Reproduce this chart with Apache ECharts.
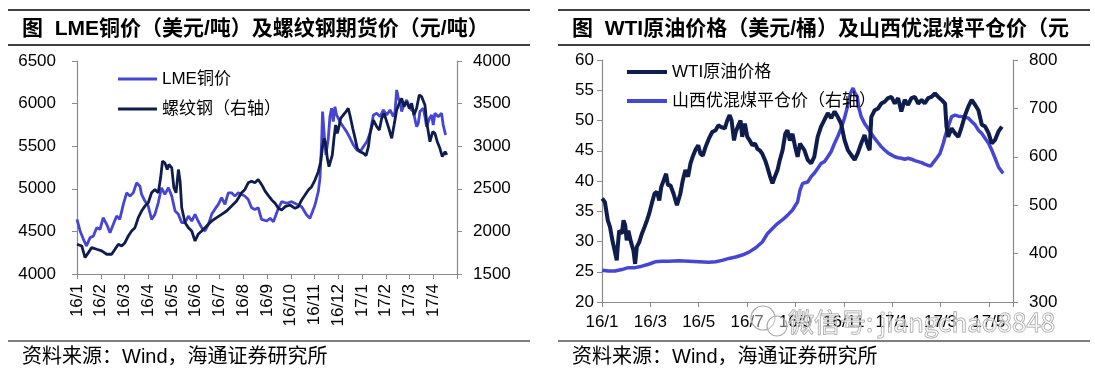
<!DOCTYPE html>
<html><head><meta charset="utf-8">
<script src="https://cdn.jsdelivr.net/npm/echarts@6/dist/echarts.min.js"></script>
<style>html,body{margin:0;padding:0;background:#fff}#c{width:1095px;height:371px}</style>
</head><body><div id="c"></div>
<script>
// x values are months counted from Jan 2016 (0 = 16/1)
const leftTickLabels = ['16/1','16/2','16/3','16/4','16/5','16/6','16/7','16/8','16/9','16/10','16/11','16/12','17/1','17/2','17/3','17/4'];
const rightTickLabels = ['16/1','16/3','16/5','16/7','16/9','16/11','17/1','17/3','17/5'];
const leftTitle = '图  LME铜价（美元/吨）及螺纹钢期货价（元/吨）';
const rightTitle = '图  WTI原油价格（美元/桶）及山西优混煤平仓价（元';
const sourceText = '资料来源：Wind，海通证券研究所';
const seriesNames = ['LME铜价','螺纹钢（右轴）','WTI原油价格','山西优混煤平仓价（右轴）'];

const lme = [[0,4641],[0.13,4505],[0.27,4407],[0.4,4330],[0.55,4427],[0.69,4446],[0.83,4544],[0.97,4524],[1.1,4660],[1.25,4583],[1.39,4485],[1.53,4583],[1.67,4680],[1.8,4641],[1.95,4817],[2.09,4953],[2.23,4914],[2.37,4953],[2.51,5070],[2.65,5031],[2.72,4934],[2.86,4856],[3.0,4797],[3.14,4641],[3.28,4700],[3.42,4836],[3.56,5012],[3.7,4934],[3.85,5012],[3.99,4914],[4.13,4739],[4.27,4700],[4.41,4602],[4.55,4602],[4.69,4680],[4.83,4622],[4.97,4700],[5.1,4622],[5.25,4544],[5.39,4505],[5.53,4583],[5.67,4700],[5.8,4758],[5.95,4817],[6.09,4895],[6.23,4817],[6.37,4953],[6.51,4953],[6.65,4914],[6.79,4953],[6.93,4934],[7.07,4914],[7.21,4875],[7.35,4778],[7.49,4758],[7.63,4778],[7.77,4641],[7.99,4622],[8.13,4654],[8.27,4614],[8.48,4771],[8.62,4849],[8.83,4830],[9.04,4849],[9.25,4818],[9.46,4790],[9.67,4693],[9.81,4654],[9.88,4673],[10.02,4810],[10.16,4966],[10.23,5123],[10.3,5550],[10.34,5906],[10.4,5671],[10.48,5397],[10.58,5593],[10.65,5847],[10.72,5945],[10.79,5788],[10.86,5964],[10.93,5867],[11.07,5788],[11.21,5729],[11.35,5671],[11.5,5593],[11.64,5514],[11.78,5456],[11.92,5436],[12.06,5495],[12.2,5553],[12.34,5651],[12.48,5867],[12.62,5887],[12.76,5847],[12.9,5925],[13.04,5867],[13.18,5925],[13.32,5847],[13.39,5906],[13.46,6160],[13.53,6063],[13.6,6023],[13.67,5906],[13.74,5964],[13.88,6043],[14.02,5945],[14.16,5906],[14.3,5729],[14.37,5768],[14.44,5906],[14.58,5945],[14.65,5847],[14.72,5729],[14.84,5827],[14.93,5867],[15.0,5749],[15.07,5886],[15.21,5847],[15.35,5886],[15.42,5749],[15.52,5631]];

const rebar = [[0,1849],[0.2,1829],[0.34,1693],[0.48,1751],[0.62,1810],[0.83,1790],[1.04,1771],[1.25,1732],[1.46,1732],[1.6,1790],[1.74,1849],[1.88,1829],[2.02,1868],[2.16,1946],[2.3,2005],[2.44,2044],[2.58,2161],[2.72,2239],[2.86,2297],[3.0,2336],[3.14,2453],[3.28,2492],[3.42,2453],[3.52,2629],[3.6,2824],[3.7,2804],[3.8,2726],[3.87,2785],[3.99,2746],[4.08,2512],[4.17,2453],[4.27,2726],[4.34,2590],[4.41,2278],[4.55,2102],[4.69,2044],[4.83,2005],[4.97,1888],[5.1,1966],[5.25,2005],[5.39,2044],[5.53,2083],[5.67,2122],[5.88,2161],[6.09,2200],[6.3,2239],[6.51,2297],[6.72,2356],[6.93,2453],[7.07,2492],[7.21,2570],[7.35,2590],[7.49,2570],[7.63,2609],[7.77,2551],[7.92,2473],[8.06,2420],[8.2,2369],[8.34,2330],[8.48,2271],[8.62,2251],[8.76,2290],[8.97,2310],[9.18,2271],[9.32,2290],[9.46,2369],[9.6,2427],[9.74,2486],[9.88,2525],[10.02,2603],[10.16,2701],[10.26,2818],[10.33,2975],[10.4,3092],[10.47,3034],[10.54,2857],[10.61,2760],[10.68,2740],[10.75,2897],[10.82,3092],[10.89,3249],[10.96,3151],[11.03,3229],[11.1,3327],[11.21,3366],[11.33,3406],[11.42,3445],[11.49,3366],[11.61,3210],[11.71,3092],[11.8,2975],[11.92,2936],[12.06,2917],[12.17,2889],[12.27,2995],[12.34,3151],[12.48,3307],[12.62,3229],[12.73,3190],[12.83,3327],[12.93,3386],[13.04,3288],[13.15,3190],[13.25,3092],[13.35,3249],[13.46,3425],[13.57,3503],[13.67,3562],[13.77,3464],[13.88,3523],[13.99,3445],[14.09,3503],[14.19,3366],[14.3,3445],[14.41,3601],[14.51,3582],[14.58,3601],[14.65,3484],[14.72,3288],[14.79,3171],[14.86,3053],[14.98,3171],[15.07,3151],[15.17,3053],[15.28,2975],[15.38,2877],[15.5,2936],[15.57,2897]];

const wti = [[0.01,37.1],[0.12,36.5],[0.24,33.5],[0.33,32.4],[0.43,30.2],[0.51,29.9],[0.61,26.9],[0.65,29.1],[0.71,31.8],[0.82,31.3],[0.89,33.5],[0.96,32.7],[1.02,30.2],[1.09,31.8],[1.2,29.9],[1.3,28.5],[1.37,26.3],[1.44,29.1],[1.54,29.9],[1.65,31.3],[1.76,32.4],[1.86,33.5],[1.95,34.6],[2.06,36.3],[2.17,37.9],[2.27,38.2],[2.37,36.8],[2.45,39.0],[2.55,40.1],[2.65,41.2],[2.73,39.3],[2.83,39.3],[2.96,37.9],[3.1,36.0],[3.24,37.9],[3.34,40.1],[3.45,41.8],[3.56,40.7],[3.66,42.9],[3.75,44.0],[3.86,45.1],[3.98,45.9],[4.07,44.5],[4.17,44.2],[4.28,45.6],[4.42,47.0],[4.56,48.1],[4.7,48.4],[4.81,49.2],[4.94,48.9],[5.08,48.7],[5.18,50.0],[5.28,50.9],[5.36,50.0],[5.46,46.7],[5.53,48.1],[5.64,49.2],[5.73,50.0],[5.8,47.3],[5.91,49.5],[6.01,47.3],[6.11,46.7],[6.22,45.9],[6.33,46.2],[6.43,45.3],[6.52,45.1],[6.63,44.5],[6.75,43.4],[6.84,42.3],[6.94,40.9],[7.05,39.6],[7.15,40.7],[7.26,41.8],[7.35,43.4],[7.47,45.1],[7.58,47.8],[7.67,48.4],[7.77,46.7],[7.88,47.8],[7.99,45.6],[8.09,44.0],[8.19,46.2],[8.3,45.5],[8.37,45.1],[8.51,43.5],[8.65,42.9],[8.78,44.0],[8.92,47.3],[9.06,49.0],[9.2,50.1],[9.34,51.2],[9.48,50.4],[9.62,51.5],[9.75,50.6],[9.89,49.5],[10.03,46.8],[10.17,45.1],[10.31,44.3],[10.45,43.5],[10.58,44.6],[10.72,46.2],[10.86,47.6],[11.0,45.7],[11.07,45.1],[11.14,50.6],[11.28,51.7],[11.42,52.0],[11.55,52.8],[11.69,53.1],[11.83,53.7],[11.97,53.9],[12.11,52.8],[12.25,53.7],[12.38,51.5],[12.52,53.4],[12.66,52.6],[12.8,53.7],[12.94,53.9],[13.08,52.8],[13.22,53.4],[13.35,52.8],[13.49,53.7],[13.63,53.9],[13.77,54.5],[13.91,53.9],[14.05,53.4],[14.19,52.8],[14.25,49.0],[14.32,47.3],[14.46,48.7],[14.6,47.9],[14.74,47.3],[14.88,49.0],[15.02,50.9],[15.15,52.3],[15.29,53.4],[15.43,52.6],[15.57,51.7],[15.71,49.3],[15.85,49.0],[15.99,47.9],[16.12,46.2],[16.19,45.9],[16.26,46.8],[16.4,48.2],[16.54,49.0]];

const coal = [[0,365.6],[0.26,364],[0.54,364],[0.82,367],[1.09,371],[1.37,371],[1.65,374],[1.93,378],[2.2,383],[2.48,384],[2.76,384],[3.17,385],[3.59,384],[4.0,383],[4.42,382],[4.7,383],[4.97,386],[5.25,390],[5.53,393],[5.8,397],[6.08,403],[6.36,412],[6.63,424],[6.84,441],[7.05,452],[7.26,462],[7.47,470],[7.67,479],[7.88,490],[8.09,507],[8.19,531],[8.3,545],[8.51,548],[8.65,559],[8.78,566],[8.92,576],[9.06,586],[9.2,590],[9.34,600],[9.48,611],[9.62,628],[9.75,642],[9.89,659],[10.03,680],[10.17,707],[10.28,731],[10.38,742],[10.47,731],[10.56,724],[10.61,704],[10.72,683],[10.86,669],[11.0,659],[11.14,648],[11.28,638],[11.42,629],[11.55,621],[11.69,614],[11.83,608],[11.97,604],[12.11,600],[12.25,598],[12.38,597],[12.52,595],[12.66,597],[12.8,595],[12.94,592],[13.08,590],[13.22,588],[13.35,585],[13.49,582],[13.6,581],[13.7,588],[13.84,597],[13.98,607],[14.12,628],[14.19,642],[14.32,662],[14.46,683],[14.6,686],[14.74,684],[14.88,683],[15.02,682],[15.15,680],[15.29,673],[15.43,666],[15.57,655],[15.71,648],[15.85,638],[15.99,628],[16.12,614],[16.26,597],[16.4,579],[16.54,569],[16.6,566]];

const BLUE = '#4646d2';
const NAVY = '#0f1d4d';
const GRAY = '#8a8a8a';
const FONT = '"Liberation Sans", Arial, "Noto Sans CJK SC", sans-serif';
const lab = {color:'#000', fontSize:17, fontFamily:FONT};

function xAx(grid, max, interval, label) {
  return {type:'value', gridIndex:grid, min:0, max:max, interval:interval,
    axisLine:{show:true, lineStyle:{color:GRAY, width:1.2}},
    axisTick:{show:true, length:5, lineStyle:{color:GRAY}},
    splitLine:{show:false}, axisLabel:label};
}
function yAx(grid, pos, min, max, interval, margin) {
  return {type:'value', gridIndex:grid, position:pos, min:min, max:max, interval:interval,
    axisLine:{show:true, lineStyle:{color:GRAY, width:1.2}},
    axisTick:{show:true, length:5, lineStyle:{color:GRAY}},
    splitLine:{show:false}, axisLabel:Object.assign({margin:margin, formatter:v => String(v)}, lab)};
}

const chart = echarts.init(document.getElementById('c'));
const titleFont = 'bold 21px "Liberation Sans", "Noto Sans CJK SC", sans-serif';
const srcFont = '20px "Liberation Sans", "Noto Sans CJK SC", sans-serif';
chart.setOption({
  animation:false,
  backgroundColor:'#fff',
  grid:[{left:77, top:61, width:380, height:213}, {left:602, top:60, width:411, height:242}],
  xAxis:[
    xAx(0, 16, 1, Object.assign({rotate:90, margin:10, formatter:v => leftTickLabels[v] || ''}, lab)),
    xAx(1, 17, 2, Object.assign({margin:12, formatter:v => (v % 2 === 0 ? rightTickLabels[v/2] : '') || ''}, lab))
  ],
  yAxis:[
    yAx(0, 'left', 4000, 6500, 500, 21),
    yAx(0, 'right', 1500, 4000, 500, 16),
    yAx(1, 'left', 20, 60, 5, 8),
    yAx(1, 'right', 300, 800, 100, 16)
  ],
  legend:[
    {left:113, top:64, orient:'vertical', icon:'rect', itemWidth:39, itemHeight:3, itemGap:10,
     data:[seriesNames[0], seriesNames[1]], textStyle:{color:'#000', fontSize:17, lineHeight:20, fontFamily:FONT}},
    {left:622, top:57, orient:'vertical', icon:'rect', itemWidth:40, itemHeight:4, itemGap:9,
     data:[seriesNames[2], seriesNames[3]], textStyle:{color:'#000', fontSize:17, lineHeight:20, fontFamily:FONT}}
  ],
  series:[
    {name:seriesNames[0], type:'line', xAxisIndex:0, yAxisIndex:0, data:lme, symbol:'none', color:BLUE, lineStyle:{width:2.8, color:BLUE}, z:2},
    {name:seriesNames[1], type:'line', xAxisIndex:0, yAxisIndex:1, data:rebar, symbol:'none', color:NAVY, lineStyle:{width:2.8, color:NAVY}, z:3},
    {name:seriesNames[2], type:'line', xAxisIndex:1, yAxisIndex:2, data:wti, symbol:'none', color:NAVY, lineStyle:{width:4, color:NAVY}, z:3},
    {name:seriesNames[3], type:'line', xAxisIndex:1, yAxisIndex:3, data:coal, symbol:'none', color:BLUE, lineStyle:{width:3.5, color:BLUE}, z:2}
  ],
  graphic:[
    {type:'line', shape:{x1:8, y1:10, x2:530, y2:10}, style:{stroke:'#000', lineWidth:1.5}},
    {type:'line', shape:{x1:8, y1:45, x2:530, y2:45}, style:{stroke:'#000', lineWidth:1.5}},
    {type:'line', shape:{x1:558, y1:10, x2:1090, y2:10}, style:{stroke:'#000', lineWidth:1.5}},
    {type:'line', shape:{x1:558, y1:45, x2:1090, y2:45}, style:{stroke:'#000', lineWidth:1.5}},
    {type:'line', shape:{x1:8, y1:341, x2:530, y2:341}, style:{stroke:'#000', lineWidth:1.2}},
    {type:'line', shape:{x1:558, y1:341, x2:1090, y2:341}, style:{stroke:'#000', lineWidth:1.2}},
    {type:'text', x:22, y:29, style:{text:leftTitle, font:titleFont, fill:'#000', verticalAlign:'middle', align:'left'}},
    {type:'text', x:572, y:29, style:{text:rightTitle, font:titleFont, fill:'#000', verticalAlign:'middle', align:'left'}},
    {type:'text', x:22, y:357, style:{text:sourceText, font:srcFont, fill:'#000', verticalAlign:'middle', align:'left'}},
    {type:'text', x:572, y:357, style:{text:sourceText, font:srcFont, fill:'#000', verticalAlign:'middle', align:'left'}},
    {type:'circle', shape:{cx:763, cy:318, r:12}, style:{fill:'rgba(255,255,255,0.4)', stroke:'#aaa', lineWidth:1.2}, z:100},
    {type:'circle', shape:{cx:777, cy:326, r:10}, style:{fill:'rgba(255,255,255,0.4)', stroke:'#aaa', lineWidth:1.2}, z:100},
    {type:'text', x:788, y:322, z:100, style:{text:'微信号: jiangchao8848', font:'26px "Noto Sans CJK SC", sans-serif', fill:'rgba(255,255,255,0.55)', stroke:'#999', lineWidth:1, verticalAlign:'middle', align:'left'}}
  ]
});
</script></body></html>
